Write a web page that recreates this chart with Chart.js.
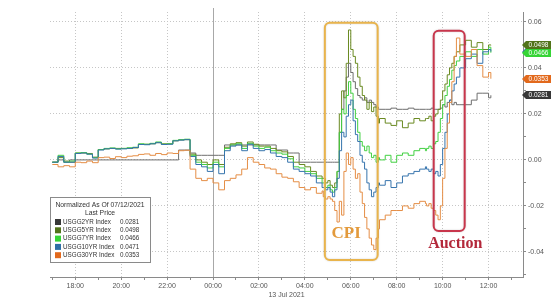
<!DOCTYPE html>
<html>
<head>
<meta charset="utf-8">
<script src="https://cdn.jsdelivr.net/npm/chart.js@4.4.1/dist/chart.umd.min.js"></script>
<style>
  html, body { margin: 0; padding: 0; background: #fff; }
  #wrap { width: 554px; height: 299px; position: relative; }
</style>
</head>
<body>
<div id="wrap"><canvas id="chart"></canvas></div>
<script>
// hours relative to 00:00, 13 Jul 2021 (negatives are the evening of 12 Jul)
const hours = [
  -7, -6.75, -6.5, -6.25, -6, -5.75, -5.5, -5.25, -5, -4.75, -4.5, -4.25,
  -4, -3.75, -3.5, -3.25, -3, -2.75, -2.5, -2.25, -2, -1.75, -1.5, -1.25,
  -1, -0.75, -0.5, -0.25, 0, 0.25, 0.5, 0.75, 1, 1.25, 1.5, 1.75,
  2, 2.25, 2.5, 2.75, 3, 3.25, 3.5, 3.75, 4, 4.25, 4.5, 4.75,
  4.8, 4.9, 5.0, 5.1, 5.2, 5.3, 5.4, 5.5, 5.6, 5.7, 5.8, 5.9, 6.0,
  6.1, 6.2, 6.3, 6.4, 6.5, 6.6, 6.7, 6.8, 6.9, 7.0, 7.1, 7.2,
  7.25, 7.5, 7.75, 8, 8.25, 8.5, 8.75, 9, 9.25,
  9.3, 9.4, 9.5, 9.6, 9.7, 9.8, 9.9, 10, 10.1, 10.2, 10.3, 10.4, 10.5, 10.6,
  10.75, 11, 11.25, 11.5, 11.75, 12, 12.1
];

// normalized yield change since 07/12/2021
const usgg2 = [
  -0.001, 0, -0.001, 0, 0, 0, 0, 0, 0, 0, 0, 0,
  0, 0, 0, 0, 0, 0, 0, 0, 0, 0, 0.0043, 0.0043,
  0.003, 0.002, 0.002, 0.002, 0.002, 0.002, 0.0065, 0.0065, 0.0065, 0.0065, 0.0065, 0.0065,
  0.0065, 0.0065, 0.0065, 0.0043, 0.0043, 0.003, 0.003, -0.001, -0.001, -0.001, -0.001, -0.001,
  -0.001, -0.001, -0.001, -0.001, -0.001, -0.001, -0.001, 0.012, 0.022, 0.03, 0.036, 0.042, 0.038,
  0.034, 0.031, 0.028, 0.027, 0.026, 0.027, 0.025, 0.026, 0.025, 0.024, 0.023, 0.022,
  0.022, 0.022, 0.0225, 0.022, 0.022, 0.0225, 0.022, 0.022, 0.022,
  0.022, 0.022, 0.0225, 0.022, 0.022, 0.022, 0.0225, 0.024, 0.023, 0.025, 0.026, 0.024, 0.025, 0.024,
  0.024, 0.024, 0.026, 0.029, 0.029, 0.027, 0.0281
];
const usgg5 = [
  -0.001, 0.001, -0.0005, -0.001, 0.003, 0.003, 0.0028, 0.0012, 0.0045, 0.0048, 0.005, 0.005,
  0.005, 0.005, 0.0052, 0.0068, 0.0068, 0.007, 0.0075, 0.007, 0.007, 0.0083, 0.0087, 0.0088,
  0.0025, 0, -0.001, -0.002, 0, -0.002, 0.0055, 0.007, 0.0075, 0.006, 0.0078, 0.0068,
  0.006, 0.006, 0.005, 0.004, 0.0035, 0.0015, -0.001, -0.002, -0.003, -0.005, -0.007, -0.008,
  -0.008, -0.01, -0.009, -0.011, -0.012, -0.01, -0.005, 0.02, 0.03, 0.027, 0.042, 0.0565, 0.048,
  0.045, 0.042, 0.036, 0.032, 0.028, 0.026, 0.022, 0.025, 0.021, 0.023, 0.019, 0.016,
  0.018, 0.016, 0.015, 0.017, 0.014, 0.016, 0.018, 0.017, 0.018,
  0.018, 0.019, 0.017, 0.019, 0.02, 0.022, 0.026, 0.03, 0.033, 0.037, 0.04, 0.042, 0.045, 0.047,
  0.05, 0.052, 0.049, 0.051, 0.048, 0.05, 0.0498
];
const usgg7 = [
  -0.001, 0.002, -0.001, -0.0005, 0.003, 0.0032, 0.0025, 0.001, 0.0045, 0.005, 0.0052, 0.0048,
  0.005, 0.0053, 0.0055, 0.007, 0.0068, 0.0072, 0.0078, 0.0068, 0.007, 0.0085, 0.0088, 0.009,
  0.002, -0.001, -0.002, -0.0035, -0.001, -0.003, 0.005, 0.0065, 0.007, 0.005, 0.0072, 0.006,
  0.005, 0.0055, 0.004, 0.003, 0.0025, 0.0005, -0.003, -0.0035, -0.005, -0.006, -0.008, -0.01,
  -0.01, -0.012, -0.011, -0.013, -0.014, -0.012, -0.005, 0.012, 0.022, 0.02, 0.028, 0.034, 0.029,
  0.022, 0.018, 0.012, 0.008, 0.006, 0.004, 0.006, 0.003, 0.001, 0.002, -0.001, 0.001,
  0.0, 0.002, -0.001, 0.002, 0.003, 0.002, 0.004, 0.005, 0.004,
  0.005, 0.006, 0.005, 0.007, 0.008, 0.012, 0.018, 0.024, 0.028, 0.032, 0.035, 0.039, 0.041, 0.043,
  0.045, 0.047, 0.045, 0.048, 0.046, 0.049, 0.0466
];
const usgg10 = [
  -0.001, 0.0015, -0.001, -0.001, 0.0028, 0.003, 0.0025, 0.0008, 0.0043, 0.0048, 0.005, 0.0047,
  0.0048, 0.005, 0.0054, 0.0067, 0.0066, 0.007, 0.0075, 0.0067, 0.0068, 0.0083, 0.0086, 0.0088,
  0.0015, -0.002, -0.003, -0.005, -0.002, -0.006, 0.004, 0.006, 0.0065, 0.004, 0.0068, 0.005,
  0.004, 0.0045, 0.003, 0.0015, 0.001, -0.001, -0.004, -0.005, -0.006, -0.007, -0.01, -0.012,
  -0.012, -0.013, -0.012, -0.014, -0.016, -0.013, -0.008, 0.004, 0.012, 0.01, 0.019, 0.024, 0.026,
  0.017, 0.011, 0.008, 0.002, -0.001, -0.004, -0.01, -0.013, -0.016, -0.014, -0.012, -0.01,
  -0.011, -0.009, -0.012, -0.01, -0.007, -0.006, -0.005, -0.004, -0.003,
  -0.004, -0.005, -0.004, -0.006, -0.005, -0.007, -0.002, 0.005, 0.012, 0.02, 0.026, 0.03, 0.033, 0.036,
  0.04, 0.044, 0.046, 0.042, 0.047, 0.048, 0.0471
];
const usgg30 = [
  -0.002, -0.003, -0.0025, -0.003, -0.001, -0.0012, -0.0005, -0.0012, 0.001, 0.0012, 0.0006, 0.0014,
  0.001, 0.0016, 0.0018, 0.0024, 0.0026, 0.002, 0.0028, 0.0023, 0.003, 0.0028, 0.004, 0.0042,
  -0.004, -0.008, -0.009, -0.008, -0.01, -0.013, -0.009, -0.008, -0.0065, -0.004, 0.001, -0.001,
  -0.002, -0.0035, -0.004, -0.006, -0.0075, -0.008, -0.0095, -0.012, -0.013, -0.012, -0.0145, -0.0135,
  -0.016, -0.017, -0.016, -0.017, -0.018, -0.022, -0.027, -0.018, -0.024, -0.005, 0.003, -0.002, 0.001,
  -0.004, -0.008, -0.006, -0.014, -0.019, -0.025, -0.03, -0.034, -0.037, -0.039, -0.034, -0.03,
  -0.026, -0.024, -0.022, -0.022, -0.02, -0.021, -0.019, -0.018, -0.019,
  -0.02, -0.019, -0.021, -0.022, -0.024, -0.026, -0.02, -0.008, 0.005, 0.016, 0.025, 0.034, 0.045, 0.053,
  0.046, 0.045, 0.048, 0.041, 0.036, 0.038, 0.0353
];

const xTickHours = [-7, -6, -5, -4, -3, -2, -1, 0, 1, 2, 3, 4, 5, 6, 7, 8, 9, 10, 11, 12, 13];
const xTickLabels = ['', '18:00', '', '20:00', '', '22:00', '', '00:00', '', '02:00', '', '04:00',
  '', '06:00', '', '08:00', '', '10:00', '', '12:00', ''];
const yTickValues = [-0.05, -0.04, -0.03, -0.02, -0.01, 0, 0.01, 0.02, 0.03, 0.04, 0.05, 0.06];
const yTickLabels = ['', '-0.04', '', '-0.02', '', '0.00', '', '0.02', '', '0.04', '', '0.06'];

// series styling (drawing order: first one ends up on top)
const series = [
  { name: 'USGG30YR Index', data: usgg30, line: '#e58e46', swatch: '#e2691c' },
  { name: 'USGG10YR Index', data: usgg10, line: '#3674ad', swatch: '#2e6fa6' },
  { name: 'USGG7YR Index', data: usgg7, line: '#42d042', swatch: '#35d435' },
  { name: 'USGG5YR Index', data: usgg5, line: '#6a8a22', swatch: '#52731a' },
  { name: 'USGG2YR Index', data: usgg2, line: '#6e6e6e', swatch: '#383838' }
];
const legendOrder = [4, 3, 2, 1, 0];
const tagOrder = [1, 3, 2, 0, 4];

// highlighted event boxes, in data units
const cpiBox = { from: 4.87, to: 7.17, top: 0.0596, bottom: -0.0435, label: 'CPI', labelAt: [5.8, -0.0322] };
const auctionBox = { from: 9.61, to: 10.96, top: 0.0561, bottom: -0.0309, label: 'Auction', labelAt: [10.55, -0.0365] };

const FONT = '"Liberation Sans", Arial, sans-serif';
Chart.defaults.font.family = FONT;

const midnightLine = {
  id: 'midnightLine',
  beforeDatasetsDraw(chart) {
    const { ctx, chartArea, scales } = chart;
    const x = Math.round(scales.x.getPixelForValue(0)) + 0.5;
    ctx.save();
    ctx.strokeStyle = '#a8a8a8';
    ctx.lineWidth = 1;
    ctx.beginPath();
    ctx.moveTo(x, chartArea.top - 4);
    ctx.lineTo(x, chartArea.bottom);
    ctx.stroke();
    ctx.restore();
  }
};

function drawEventBox(chart, box, stroke, textColor, fontSize) {
  const { ctx, scales } = chart;
  const x1 = scales.x.getPixelForValue(box.from);
  const x2 = scales.x.getPixelForValue(box.to);
  const y1 = scales.y.getPixelForValue(box.top);
  const y2 = scales.y.getPixelForValue(box.bottom);
  ctx.save();
  ctx.strokeStyle = stroke;
  ctx.lineWidth = 2;
  ctx.shadowColor = 'rgba(0,0,0,0.18)';
  ctx.shadowBlur = 2;
  ctx.beginPath();
  ctx.roundRect(x1, y1, x2 - x1, y2 - y1, 5);
  ctx.stroke();
  ctx.shadowBlur = 0;
  ctx.fillStyle = textColor;
  ctx.font = `bold ${fontSize}px "Liberation Serif", "DejaVu Serif", serif`;
  ctx.textAlign = 'center';
  ctx.textBaseline = 'middle';
  ctx.fillText(box.label, scales.x.getPixelForValue(box.labelAt[0]), scales.y.getPixelForValue(box.labelAt[1]));
  ctx.restore();
}

const eventBoxes = {
  id: 'eventBoxes',
  afterDatasetsDraw(chart) {
    drawEventBox(chart, cpiBox, '#e9b44c', '#e39a3c', 17);
    drawEventBox(chart, auctionBox, '#c8364c', '#b3283a', 16);
  }
};

const lastPriceTags = {
  id: 'lastPriceTags',
  afterDraw(chart) {
    const { ctx, chartArea, scales } = chart;
    ctx.save();
    tagOrder.forEach(i => {
      const s = series[i];
      const last = s.data[s.data.length - 1];
      const y = Math.round(scales.y.getPixelForValue(last));
      const x = chartArea.right - 1;
      ctx.fillStyle = s.swatch;
      ctx.beginPath();
      ctx.moveTo(x, y);
      ctx.lineTo(x + 4, y - 4);
      ctx.lineTo(x + 29, y - 4);
      ctx.lineTo(x + 29, y + 4);
      ctx.lineTo(x + 4, y + 4);
      ctx.closePath();
      ctx.fill();
      ctx.fillStyle = '#fff';
      ctx.font = `6.5px ${FONT}`;
      ctx.textAlign = 'center';
      ctx.textBaseline = 'middle';
      ctx.fillText(last.toFixed(4), x + 16.5, y + 0.5);
    });
    ctx.restore();
  }
};

const legendBox = {
  id: 'legendBox',
  afterDraw(chart) {
    const { ctx } = chart;
    const left = 50, top = 197, w = 100, h = 65;
    ctx.save();
    ctx.fillStyle = '#fff';
    ctx.fillRect(left, top, w, h);
    ctx.strokeStyle = '#8a8a8a';
    ctx.lineWidth = 1;
    ctx.strokeRect(left + 0.5, top + 0.5, w, h);
    ctx.fillStyle = '#333';
    ctx.font = `6.8px ${FONT}`;
    ctx.textAlign = 'center';
    ctx.textBaseline = 'middle';
    ctx.fillText('Normalized As Of 07/12/2021', left + w / 2, top + 8);
    ctx.fillText('Last Price', left + w / 2, top + 16.5);
    ctx.textAlign = 'left';
    ctx.font = `6.3px ${FONT}`;
    legendOrder.forEach((i, row) => {
      const s = series[i];
      const y = top + 25 + row * 8.3;
      ctx.fillStyle = s.swatch;
      ctx.fillRect(left + 5, y - 3, 6, 6);
      ctx.fillStyle = '#333';
      ctx.fillText(s.name, left + 13, y);
      ctx.fillText(s.data[s.data.length - 1].toFixed(4), left + 70, y);
    });
    ctx.restore();
  }
};

new Chart(document.getElementById('chart'), {
  type: 'line',
  data: {
    datasets: series.map(s => ({
      label: s.name,
      data: hours.map((h, i) => ({ x: h, y: s.data[i] })),
      borderColor: s.line,
      borderWidth: 1,
      pointRadius: 0,
      stepped: true,
      fill: false
    }))
  },
  options: {
    responsive: true,
    maintainAspectRatio: false,
    animation: false,
    devicePixelRatio: 1,
    layout: { padding: { left: 50, top: 12, right: 0, bottom: 0 } },
    plugins: { legend: { display: false }, tooltip: { enabled: false } },
    scales: {
      x: {
        type: 'linear',
        min: -7.1,
        max: 13.5,
        afterBuildTicks: sc => { sc.ticks = xTickHours.map(v => ({ value: v })); },
        afterFit: sc => { sc.height = 22; },
        ticks: {
          autoSkip: false, maxRotation: 0, padding: 2, color: '#555',
          font: { size: 7 },
          callback: (v, i) => xTickLabels[i]
        },
        grid: {
          color: c => (c.type === 'tick' && xTickLabels[c.index]) ? '#c6c6c6' : 'rgba(0,0,0,0)',
          tickColor: '#8a8a8a', tickLength: 3, lineWidth: 1
        },
        border: { display: true, color: '#8a8a8a', dash: [1, 2] },
        title: { display: true, text: '13 Jul 2021', color: '#555', font: { size: 7 }, padding: 0 }
      },
      y: {
        position: 'right',
        min: -0.0509,
        max: 0.0643,
        afterBuildTicks: sc => { sc.ticks = yTickValues.map(v => ({ value: v })); },
        afterFit: sc => { sc.width = 31; },
        ticks: {
          autoSkip: false, padding: 2, color: '#555',
          font: { size: 7 },
          callback: (v, i) => yTickLabels[i]
        },
        grid: {
          color: c => (c.type === 'tick' && yTickLabels[c.index]) ? '#c6c6c6' : 'rgba(0,0,0,0)',
          tickColor: '#8a8a8a', tickLength: 3, lineWidth: 1
        },
        border: { display: true, color: '#8a8a8a', dash: [1, 2] }
      }
    }
  },
  plugins: [midnightLine, eventBoxes, lastPriceTags, legendBox]
});
</script>
</body>
</html>
